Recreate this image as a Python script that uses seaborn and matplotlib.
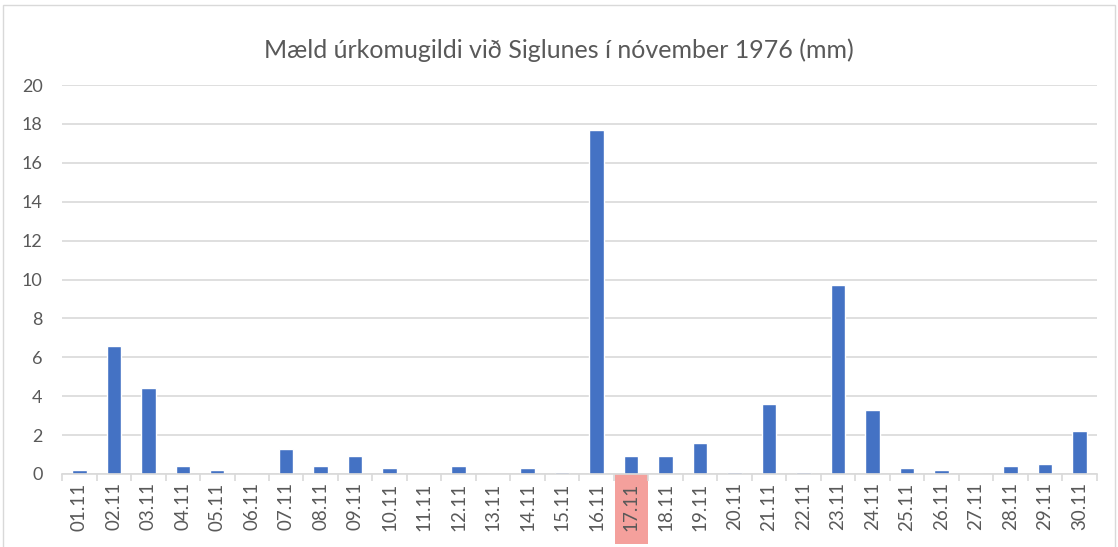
import matplotlib
matplotlib.use("Agg")
import matplotlib.pyplot as plt
import matplotlib.patches as mpatches
import matplotlib.transforms as mtransforms
import seaborn as sns
import pandas as pd

days = [f"{d:02d}.11" for d in range(1, 31)]
values = [0.2, 6.6, 4.4, 0.4, 0.2, 0.0, 1.3, 0.4, 0.9, 0.3,
          0.0, 0.4, 0.0, 0.3, 0.1, 17.7, 0.9, 0.9, 1.6, 0.1,
          3.6, 0.1, 9.7, 3.3, 0.3, 0.2, 0.0, 0.4, 0.5, 2.2]
highlight_day = "17.11"
title = "Mæld úrkomugildi við Siglunes í nóvember 1976 (mm)"
yticks = list(range(0, 21, 2))

sns.set_theme(style="white")
plt.rcParams['font.family'] = ['Lato', 'DejaVu Sans']

df = pd.DataFrame({"day": days, "mm": values})

fig = plt.figure(figsize=(11.18, 5.47), dpi=100)
ax = fig.add_axes([0.0555, 0.1335, 0.9255, 0.711])

sns.barplot(data=df, x="day", y="mm", color="#4472C4", saturation=1, width=0.42, ax=ax)

ax.set_ylim(0, 20)
ax.set_xlim(-0.5, len(days) - 0.5)
ax.set_yticks(yticks)
ax.yaxis.grid(True, color="#D9D9D9", linewidth=1.2)
ax.set_axisbelow(True)
ax.set_xlabel("")
ax.set_ylabel("")
for s in ["left", "right", "top"]:
    ax.spines[s].set_visible(False)
ax.spines["bottom"].set_color("#D9D9D9")
ax.spines["bottom"].set_linewidth(1.2)

ax.tick_params(axis="y", length=0, labelsize=13, labelcolor="#595959", pad=14)
ax.tick_params(axis="x", length=0, labelsize=13.5, labelcolor="#595959", labelrotation=90, pad=6)

# boundary tick marks between categories
ax.set_xticks([i - 0.5 for i in range(len(days) + 1)], minor=True)
ax.tick_params(axis="x", which="minor", length=5, color="#D9D9D9", width=1.2, bottom=True)

# highlight rectangle behind 17.11 label
idx = days.index(highlight_day)
trans = mtransforms.blended_transform_factory(ax.transData, ax.transAxes)
rect = mpatches.Rectangle((idx - 0.48, -0.18), 0.96, 0.18, transform=trans,
                          facecolor="#F4A09C", edgecolor="none", clip_on=False, zorder=0)
ax.add_patch(rect)

fig.suptitle(title, y=0.93, fontsize=18, color="#595959")

border = mpatches.Rectangle((0.003, -0.01), 0.994, 1.0, transform=fig.transFigure,
                            facecolor="none", edgecolor="#D9D9D9", linewidth=1)
fig.patches.append(border)

fig.savefig("out.png", dpi=100)
